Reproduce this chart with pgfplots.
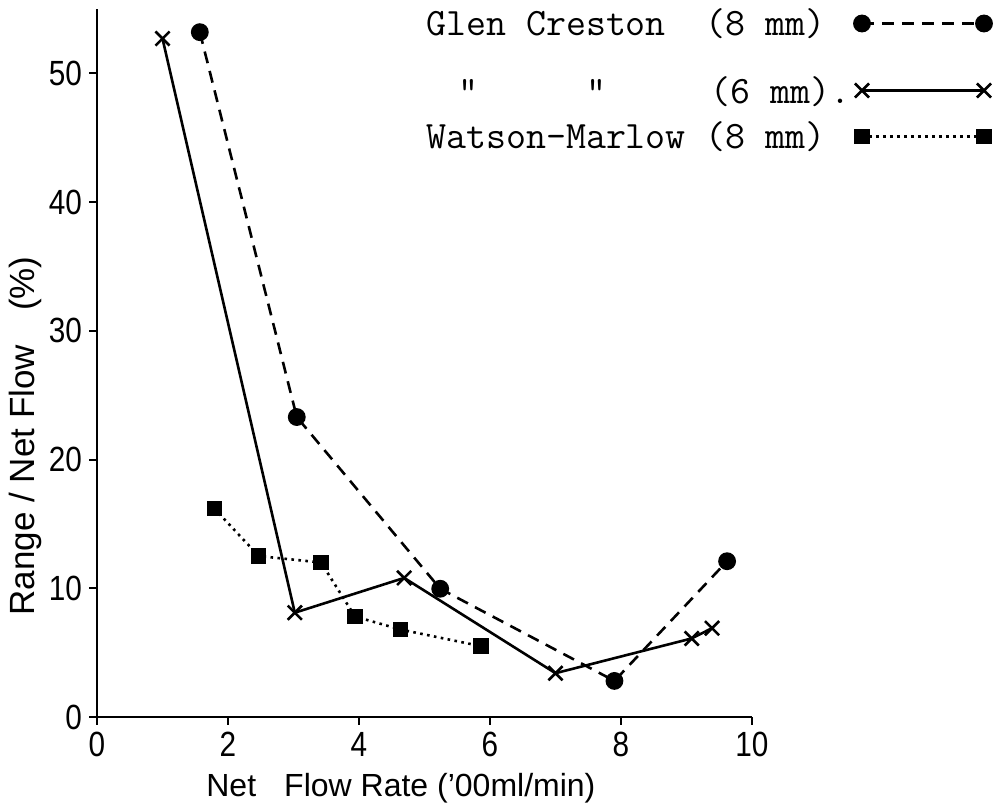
\documentclass[border=0pt]{standalone}
\usepackage{fontspec}
\setmainfont{Liberation Sans}
\newfontfamily\tickfont[FakeStretch=0.85]{Liberation Sans}
\usepackage{pgfplots}
\pgfplotsset{compat=1.18}
\begin{document}
\begin{tikzpicture}
\begin{axis}[
  scale only axis,
  width=327.5pt, height=354pt,
  xmin=0, xmax=10, ymin=0, ymax=55,
  axis x line=bottom, axis y line=left,
  axis line style={-, line width=1.3pt, black},
  xtick={0,2,4,6,8,10}, ytick={0,10,20,30,40,50},
  tick align=outside, major tick length=4pt,
  tick style={line width=1pt, black},
  ticklabel style={font=\tickfont\fontsize{17.5}{20}\selectfont},
  /pgf/number format/assume math mode=true,
  xlabel={Net\hspace{0.6em} Flow Rate ('00ml/min)},
  ylabel={Range / Net Flow\hspace{0.7em} (\%)},
  xlabel style={font=\fontsize{16}{19}\selectfont, at={(axis description cs:0.464,-0.1)}, anchor=center},
  ylabel style={font=\fontsize{17.5}{20}\selectfont, at={(axis description cs:-0.11,0.397)}, anchor=center},
  legend plot pos=right,
  legend cell align=left,
  legend image code/.code={\draw[#1] plot coordinates {(0pt,0pt) (61pt,0pt)};},
  legend style={at={(axis description cs:1.3756,1.0125)}, anchor=north east, draw=none, fill=none,
    font=\ttfamily\fontsize{19.4}{22}\selectfont, row sep=3.5pt,
    /tikz/every even column/.append style={column sep=19pt}},
]
\addplot[black, line width=1.3pt, dash pattern=on 6pt off 4pt, mark=*, mark size=3.8pt, mark options={solid}]
  coordinates {(1.57,53.2) (3.05,23.3) (5.24,9.96) (7.9,2.8) (9.62,12.1)};
\addlegendentry{Glen\phantom{x}Creston\phantom{xx}(8\phantom{x}mm)}
\addplot[black, line width=1.3pt, mark=x, mark size=5pt, mark options={solid}, legend image post style={yshift=-5.25pt}]
  coordinates {(1.0,52.7) (3.02,8.1) (4.69,10.8) (7.0,3.4) (9.08,6.1) (9.39,6.9)};
\addlegendentry{\rule{0pt}{25pt}\hspace*{0.84em}"\hspace*{2.78em}"\hspace*{2.68em}(6\phantom{x}mm).}
\addplot[black, line width=1.3pt, dash pattern=on 1.3pt off 2.2pt, mark=square*, mark size=3.2pt, mark options={solid}]
  coordinates {(1.79,16.2) (2.47,12.5) (3.42,12.0) (3.94,7.8) (4.63,6.8) (5.86,5.5)};
\addlegendentry{Watson-Marlow\phantom{x}(8\phantom{x}mm)}
\coordinate (bbl) at (rel axis cs:-0.1481,-0.1285);
\coordinate (btr) at (rel axis cs:1.3863,1.0127);
\end{axis}
\pgfresetboundingbox
\useasboundingbox (bbl) rectangle (btr);
\end{tikzpicture}
\end{document}
